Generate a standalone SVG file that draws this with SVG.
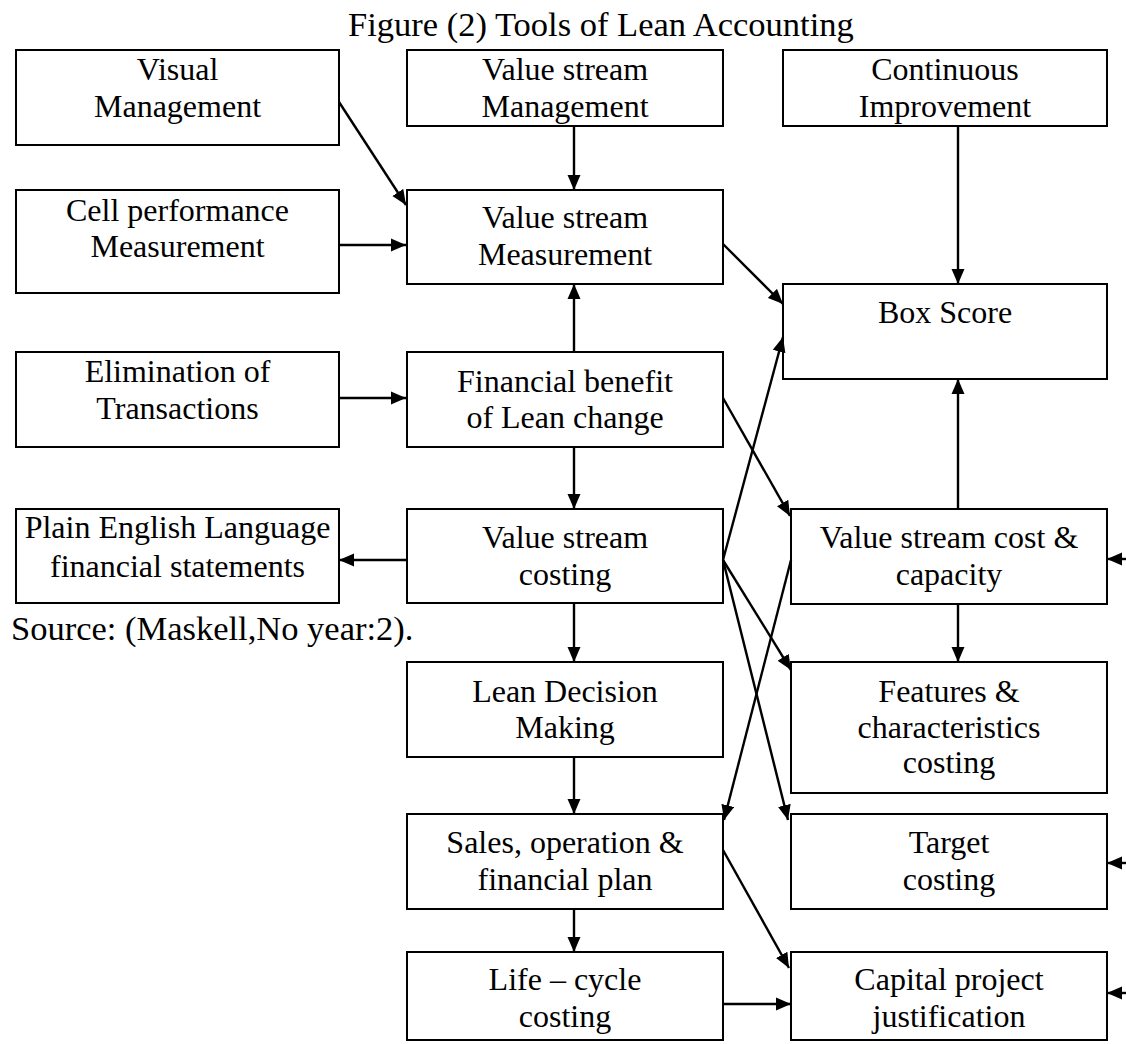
<svg xmlns="http://www.w3.org/2000/svg" width="1126" height="1044" viewBox="0 0 1126 1044">
<defs>
<marker id="ah" markerWidth="15" markerHeight="14" viewBox="0 0 15 14" refX="15" refY="7" orient="auto" markerUnits="userSpaceOnUse"><path d="M0,0.5 L15,7 L0,13.5 z" fill="#000"/></marker>
<style>
.box{fill:#fff;stroke:#000;stroke-width:2}
.t{font-family:"Liberation Serif","Times New Roman",serif;font-size:32px;fill:#000;text-anchor:middle}
.cap{font-family:"Liberation Serif","Times New Roman",serif;font-size:34.5px;fill:#000}
.c{stroke:#000;stroke-width:2.4;fill:none;marker-end:url(#ah)}
</style>
</defs>
<rect width="1126" height="1044" fill="#fff"/>
<text class="cap" x="348" y="36">Figure (2) Tools of Lean Accounting</text>
<text class="cap" x="11" y="640">Source: (Maskell,No year:2).</text>

<g id="visual"><rect class="box" x="16" y="50" width="323" height="95"/><text class="t" x="177.5" y="80">Visual</text><text class="t" x="177.5" y="117">Management</text></g>
<g id="cell"><rect class="box" x="16" y="190" width="323" height="103"/><text class="t" x="177.5" y="221">Cell performance</text><text class="t" x="177.5" y="257">Measurement</text></g>
<g id="elim"><rect class="box" x="16" y="352" width="323" height="95"/><text class="t" x="177.5" y="382">Elimination of</text><text class="t" x="177.5" y="419">Transactions</text></g>
<g id="plain"><rect class="box" x="16" y="509" width="323" height="94"/><text class="t" x="177.5" y="538">Plain English Language</text><text class="t" x="177.5" y="577">financial statements</text></g>

<g id="vsmgmt"><rect class="box" x="407" y="50" width="316" height="76"/><text class="t" x="565" y="80">Value stream</text><text class="t" x="565" y="117">Management</text></g>
<g id="vsmeas"><rect class="box" x="407" y="190" width="316" height="94"/><text class="t" x="565" y="228">Value stream</text><text class="t" x="565" y="265">Measurement</text></g>
<g id="finben"><rect class="box" x="407" y="352" width="316" height="95"/><text class="t" x="565" y="392">Financial benefit</text><text class="t" x="565" y="428">of Lean change</text></g>
<g id="vscosting"><rect class="box" x="407" y="509" width="316" height="94"/><text class="t" x="565" y="548">Value stream</text><text class="t" x="565" y="585">costing</text></g>
<g id="lean"><rect class="box" x="407" y="662" width="316" height="95"/><text class="t" x="565" y="702">Lean Decision</text><text class="t" x="565" y="738">Making</text></g>
<g id="sales"><rect class="box" x="407" y="814" width="316" height="95"/><text class="t" x="565" y="853">Sales, operation &amp;</text><text class="t" x="565" y="890">financial plan</text></g>
<g id="life"><rect class="box" x="407" y="952" width="316" height="88"/><text class="t" x="565" y="990">Life – cycle</text><text class="t" x="565" y="1027">costing</text></g>

<g id="contimp"><rect class="box" x="783" y="50" width="324" height="76"/><text class="t" x="945" y="80">Continuous</text><text class="t" x="945" y="117">Improvement</text></g>
<g id="boxscore"><rect class="box" x="783" y="284" width="324" height="95"/><text class="t" x="945" y="323">Box Score</text></g>
<g id="vscostcap"><rect class="box" x="791" y="509" width="316" height="95"/><text class="t" x="949" y="548">Value stream cost &amp;</text><text class="t" x="949" y="585">capacity</text></g>
<g id="features"><rect class="box" x="791" y="662" width="316" height="131"/><text class="t" x="949" y="702">Features &amp;</text><text class="t" x="949" y="738">characteristics</text><text class="t" x="949" y="773">costing</text></g>
<g id="target"><rect class="box" x="791" y="814" width="316" height="95"/><text class="t" x="949" y="853">Target</text><text class="t" x="949" y="890">costing</text></g>
<g id="capital"><rect class="box" x="791" y="952" width="316" height="88"/><text class="t" x="949" y="990">Capital project</text><text class="t" x="949" y="1027">justification</text></g>

<g id="connectors">
<path class="c" d="M339,102 L406,205"/>
<path class="c" d="M339,245 L406,245"/>
<path class="c" d="M574,126 L574,190"/>
<path class="c" d="M958,126 L958,284"/>
<path class="c" d="M723,244 L783,304"/>
<path class="c" d="M574,352 L574,284"/>
<path class="c" d="M339,398 L406,398"/>
<path class="c" d="M723,398 L790,516"/>
<path class="c" d="M574,447 L574,509"/>
<path class="c" d="M407,560 L339,560"/>
<path class="c" d="M723,560 L783,337"/>
<path class="c" d="M723,560 L791,670"/>
<path class="c" d="M723,560 L788,820"/>
<path class="c" d="M791,560 L724,820"/>
<path class="c" d="M574,603 L574,662"/>
<path class="c" d="M574,757 L574,814"/>
<path class="c" d="M958,509 L958,379"/>
<path class="c" d="M958,604 L958,662"/>
<path class="c" d="M723,850 L789,968"/>
<path class="c" d="M574,909 L574,952"/>
<path class="c" d="M723,1004 L791,1004"/>
<path class="c" d="M1127,559 L1107,559"/>
<path class="c" d="M1127,863 L1107,863"/>
<path class="c" d="M1127,993 L1107,993"/>
</g>
</svg>
